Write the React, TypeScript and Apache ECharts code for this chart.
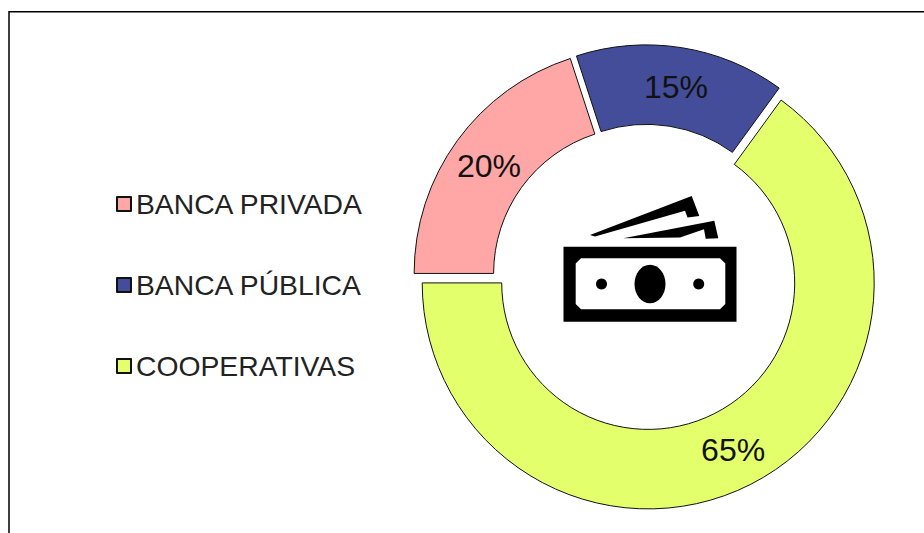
import React, { useEffect, useRef } from "react";
import * as echarts from "echarts";

const categories = ["BANCA PRIVADA", "BANCA PÚBLICA", "COOPERATIVAS"];
const shares = [20, 15, 65];
const colors = ["#FFA6A6", "#444D99", "#E3FF6B"];
const labelNudges = [[2, 3.5], [0, 3], [-1, -2]];

const noteA = [[590, 235], [691.7, 196], [699.3, 216], [687.5, 217.5], [685, 210.7], [595, 236.5]];
const noteB = [[623.3, 238.3], [714.3, 220.7], [718.3, 238.3], [705.7, 238.7], [704, 229.3], [680, 237.5]];
const billInner = [[581, 258.3], [720, 258.3], [725.3, 263.5], [725.3, 304], [720, 309.3], [581, 309.3], [575.7, 304], [575.7, 263.5]];

export default function App() {
  const ref = useRef<HTMLDivElement>(null);
  useEffect(() => {
    document.body.style.margin = "0";
    const chart = echarts.init(ref.current!, null, { renderer: "svg" });
    chart.setOption({
      animation: false,
      backgroundColor: "#fff",
      legend: {
        orient: "vertical",
        left: 111,
        top: 182,
        itemWidth: 14,
        itemHeight: 14,
        itemGap: 47,
        selectedMode: false,
        icon: "rect",
        textStyle: { fontFamily: "Liberation Sans", fontSize: 28.3, color: "#222", lineHeight: 34 },
        data: categories,
      },
      series: [
        {
          type: "pie",
          center: [645.3, 277.2],
          radius: [146.5, 226],
          startAngle: 180,
          clockwise: true,
          selectedMode: "multiple",
          selectedOffset: 6.4,
          label: {
            show: true,
            position: "inside",
            formatter: "{c}%",
            fontFamily: "Liberation Sans",
            fontSize: 32,
            color: "#111",
          },
          labelLine: { show: false },
          labelLayout: (p: any) => ({ dx: labelNudges[p.dataIndex][0], dy: labelNudges[p.dataIndex][1] }),
          itemStyle: { borderColor: "#111", borderWidth: 1 },
          select: { itemStyle: { borderColor: "#111", borderWidth: 1 } },
          emphasis: { disabled: true },
          data: categories.map((name, i) => ({
            name,
            value: shares[i],
            selected: true,
            itemStyle: { color: colors[i] },
            select: { itemStyle: { color: colors[i], borderColor: "#111", borderWidth: 1 } },
          })),
        },
      ],
      graphic: [
        { type: "rect", silent: true, shape: { x: 9, y: 11.7, width: 1000, height: 1000 }, style: { fill: "none", stroke: "#000", lineWidth: 1.5 } },
        { type: "rect", silent: true, shape: { x: 563.5, y: 246.7, width: 173, height: 75 }, style: { fill: "#000" } },
        { type: "polygon", silent: true, shape: { points: billInner }, style: { fill: "#fff" } },
        { type: "ellipse", silent: true, shape: { cx: 650, cy: 284, rx: 15.5, ry: 19.3 }, style: { fill: "#000" } },
        { type: "circle", silent: true, shape: { cx: 601.5, cy: 284, r: 5.5 }, style: { fill: "#000" } },
        { type: "circle", silent: true, shape: { cx: 698.7, cy: 284, r: 5.5 }, style: { fill: "#000" } },
        { type: "polygon", silent: true, shape: { points: noteA }, style: { fill: "#000" } },
        { type: "polygon", silent: true, shape: { points: noteB }, style: { fill: "#000" } },
      ],
    });
    return () => chart.dispose();
  }, []);
  return <div ref={ref} style={{ width: 924, height: 533 }} />;
}
